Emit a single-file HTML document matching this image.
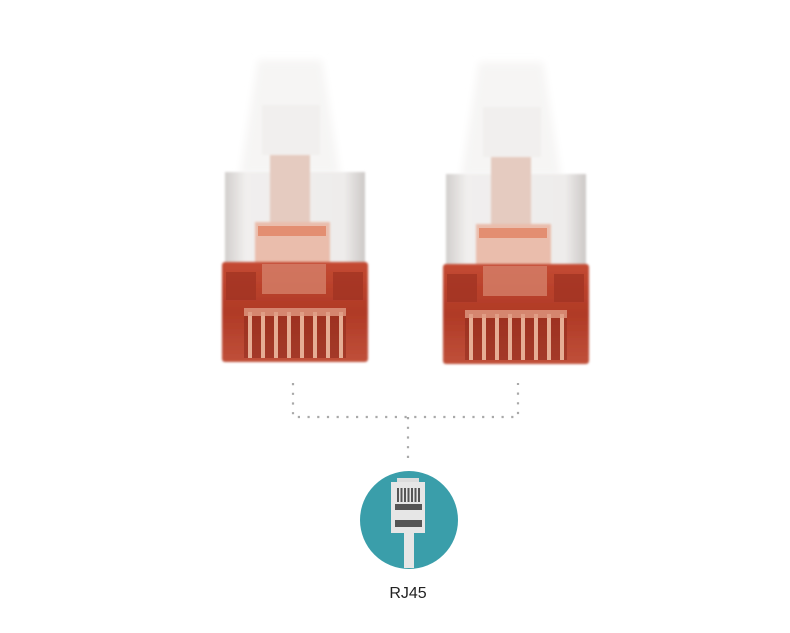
<!DOCTYPE html><html><head><style>body{margin:0;background:#fff}svg{display:block}</style></head><body>
<svg width="790" height="633" viewBox="0 0 790 633" xmlns="http://www.w3.org/2000/svg">
<defs>
<filter id="b" x="-20%" y="-20%" width="140%" height="140%"><feGaussianBlur stdDeviation="4"/></filter>
<filter id="b2"><feGaussianBlur stdDeviation="1"/></filter>
<linearGradient id="red" x1="0" y1="0" x2="0" y2="1"><stop offset="0" stop-color="#c44a32"/><stop offset="0.5" stop-color="#b03a26"/><stop offset="1" stop-color="#c0503a"/></linearGradient>
<linearGradient id="met" x1="0" y1="0" x2="1" y2="0"><stop offset="0" stop-color="#d2cfcd"/><stop offset="0.15" stop-color="#f1efee"/><stop offset="0.85" stop-color="#eeeceb"/><stop offset="1" stop-color="#cdc9c7"/></linearGradient>
<g id="conn">
<path d="M258 60 L322 60 L340 175 L240 175 Z" fill="#f6f5f4" filter="url(#b)"/>
<rect x="262" y="105" width="58" height="50" fill="#f1efee" filter="url(#b2)"/>
<rect x="225" y="172" width="140" height="96" fill="url(#met)" filter="url(#b2)"/>
<rect x="270" y="155" width="40" height="70" fill="#e5cbc0" filter="url(#b2)"/>
<rect x="255" y="222" width="75" height="42" fill="#eabdac" filter="url(#b2)"/>
<rect x="258" y="226" width="68" height="10" fill="#e07a58" opacity="0.7"/>
<rect x="222" y="262" width="146" height="100" rx="3" fill="url(#red)" filter="url(#b2)"/>
<rect x="262" y="264" width="64" height="30" fill="#d58069" opacity="0.8"/>
<rect x="226" y="272" width="30" height="28" fill="#9e3222" opacity="0.7"/>
<rect x="333" y="272" width="30" height="28" fill="#9e3222" opacity="0.7"/>
<rect x="244" y="316" width="102" height="42" fill="#8e2a1c" opacity="0.55"/>
<g fill="#e6ad94">
<rect x="248" y="312" width="4" height="46"/><rect x="261" y="312" width="4" height="46"/><rect x="274" y="312" width="4" height="46"/><rect x="287" y="312" width="4" height="46"/><rect x="300" y="312" width="4" height="46"/><rect x="313" y="312" width="4" height="46"/><rect x="326" y="312" width="4" height="46"/><rect x="339" y="312" width="4" height="46"/>
</g>
<rect x="244" y="308" width="102" height="8" fill="#df9a82" opacity="0.8"/>
</g>
</defs>
<use href="#conn"/>
<use href="#conn" transform="translate(221,2)"/>
<path d="M293 383 V417 H518 V383 M408 417 V460" stroke="#a9a9a9" stroke-width="2.2" fill="none" stroke-dasharray="2.2 7.5"/>
<circle cx="409" cy="520" r="49" fill="#3a9eaa"/>
<rect x="404" y="530" width="10" height="38" fill="#e6e6e6"/>
<rect x="397" y="478" width="22" height="5" fill="#dcdcdc"/>
<rect x="391" y="482" width="34" height="51" fill="#e6e6e6"/>
<g fill="#555"><rect x="397" y="488" width="2" height="14"/><rect x="400.5" y="488" width="2" height="14"/><rect x="404" y="488" width="2" height="14"/><rect x="407.5" y="488" width="2" height="14"/><rect x="411" y="488" width="2" height="14"/><rect x="414.5" y="488" width="2" height="14"/><rect x="418" y="488" width="2" height="14"/></g>
<rect x="395" y="504" width="27" height="6" fill="#555"/>
<rect x="395" y="520" width="27" height="7" fill="#555"/>
<text x="408" y="598" font-family="Liberation Sans, sans-serif" font-size="16" fill="#222" text-anchor="middle">RJ45</text>
</svg>
</body></html>
